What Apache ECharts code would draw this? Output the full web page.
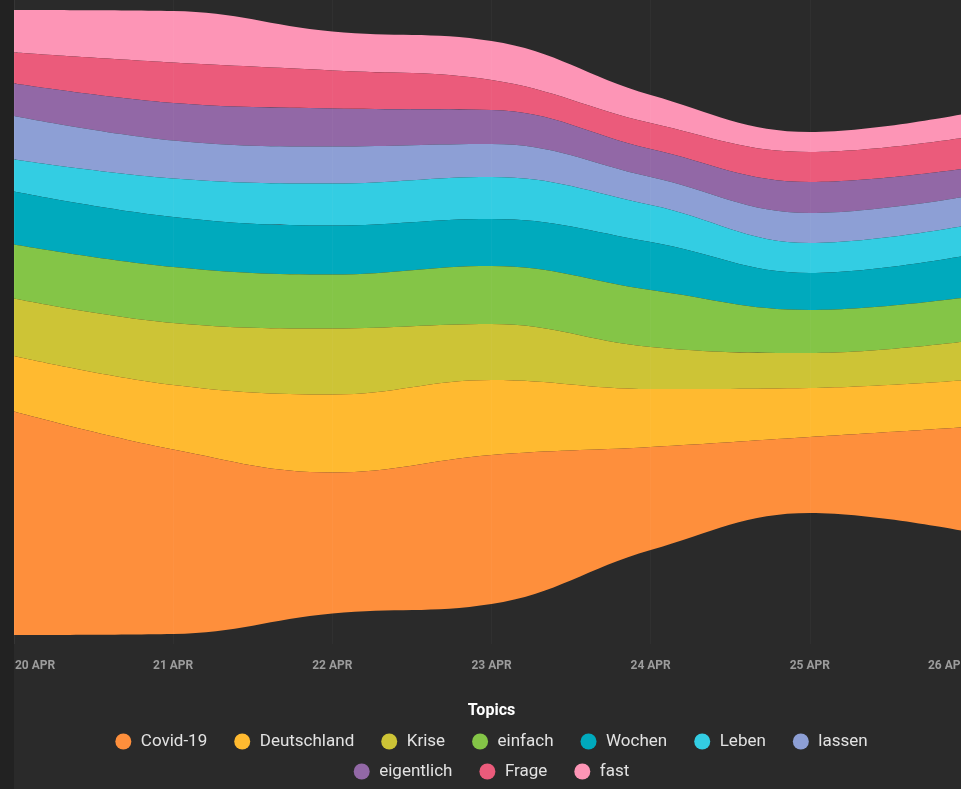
<!DOCTYPE html>
<html>
<head>
<meta charset="utf-8">
<script src="https://cdn.jsdelivr.net/npm/echarts@6/dist/echarts.min.js"></script>
<style>
  html, body { margin: 0; padding: 0; width: 961px; height: 789px; overflow: hidden; background: #2a2a2a; }
  #rail { position: absolute; left: 0; top: 0; width: 14px; height: 789px; background: #222222; }
  #chart { position: absolute; left: 14px; top: 0; width: 955px; height: 789px; }
</style>
</head>
<body>
<div id="rail"></div>
<div id="chart"></div>
<script>
// Daily topic weights, 20-26 April
const days = ['2020/04/20', '2020/04/21', '2020/04/22', '2020/04/23', '2020/04/24', '2020/04/25', '2020/04/26'];

// Legend order (bottom layer of the river first)
const topics = ['Covid-19', 'Deutschland', 'Krise', 'einfach', 'Wochen', 'Leben', 'lassen', 'eigentlich', 'Frage', 'fast'];
const topicColors = ['#fe8f3c', '#ffba30', '#cdc436', '#84c547', '#00aabd', '#33cde3', '#8d9fd5', '#9268a6', '#eb5b7b', '#fd95b6'];

const covid19     = [223.5, 184.5, 141, 149, 103, 76, 105];
const deutschland = [55.5, 64.5, 78, 75, 58, 49, 47];
const krise       = [57.5, 62, 66, 56, 42, 35, 39];
const einfach     = [54, 56, 54, 58, 57, 43, 44];
const wochen      = [53, 50, 49, 47, 48, 37, 42];
const leben       = [32, 38.5, 42, 42, 37, 30, 30];
const lassen      = [43.5, 38, 37, 33, 28, 30, 29];
const eigentlich  = [32.5, 37.5, 38, 34, 28, 31, 28];
const frage       = [31, 40.5, 38, 30, 26, 30, 31];
const fast        = [42.5, 51.5, 39, 39, 28, 20, 24];

const MONTHS = ['JAN', 'FEB', 'MAR', 'APR', 'MAY', 'JUN', 'JUL', 'AUG', 'SEP', 'OCT', 'NOV', 'DEC'];

const seriesByTopic = {
  'Covid-19': covid19, 'Deutschland': deutschland, 'Krise': krise, 'einfach': einfach,
  'Wochen': wochen, 'Leben': leben, 'lassen': lassen, 'eigentlich': eigentlich,
  'Frage': frage, 'fast': fast
};

// themeRiver stacks its first layer at the top, so feed the layers top-down
const layerOrder = topics.slice().reverse();
const riverData = [];
layerOrder.forEach(function (name) {
  days.forEach(function (d, i) { riverData.push([d, seriesByTopic[name][i], name]); });
});
const palette = layerOrder.map(function (name) { return topicColors[topics.indexOf(name)]; });

const firstDay = new Date(days[0]).getTime();
const lastDay = new Date(days[days.length - 1]).getTime();

const legendBase = {
  left: 'center',
  icon: 'circle',
  itemWidth: 25,
  itemHeight: 16,
  itemGap: 27,
  selectedMode: false,
  textStyle: { color: '#e2e2e2', fontSize: 17, fontFamily: 'Roboto, sans-serif' }
};

const labelStyle = { color: '#9c9c9c', fontSize: 12, fontWeight: 'bold', fontFamily: 'Roboto, sans-serif' };

const chart = echarts.init(document.getElementById('chart'), null, { renderer: 'canvas' });
chart.setOption({
  backgroundColor: 'transparent',
  color: palette,
  textStyle: { fontFamily: 'Roboto, sans-serif' },
  title: {
    text: 'Topics',
    left: 'center',
    top: 703,
    padding: 0,
    textStyle: { color: '#ffffff', fontSize: 16, fontWeight: 'bold', fontFamily: 'Roboto, sans-serif' }
  },
  legend: [
    Object.assign({}, legendBase, { data: topics.slice(0, 7), top: 728 }),
    Object.assign({}, legendBase, { data: topics.slice(7), top: 758 })
  ],
  singleAxis: {
    type: 'time',
    left: 0,
    right: 0,
    top: 0,
    height: 644,
    min: days[0],
    max: days[days.length - 1],
    minInterval: 86400000,
    maxInterval: 86400000,
    zlevel: 1,
    z: 10,
    axisLine: { show: false },
    axisTick: { show: false },
    splitLine: { show: true, lineStyle: { color: 'rgba(255,255,255,0.16)', width: 1, type: 'solid' } },
    axisLabel: Object.assign({}, labelStyle, {
      margin: 16,
      showMinLabel: true,
      showMaxLabel: true,
      hideOverlap: false,
      formatter: function (v) {
        const d = new Date(v);
        const text = d.getDate() + ' ' + MONTHS[d.getMonth()];
        // the end dates sit on the chart edges, so keep their text inside
        if (v <= firstDay) return '{first|' + text + '}';
        if (v >= lastDay) return '{last|' + text + '}';
        return text;
      },
      rich: {
        first: Object.assign({}, labelStyle, { padding: [0, 0, 0, 42] }),
        last: Object.assign({}, labelStyle, { padding: [0, 42, 0, 0] })
      }
    })
  },
  series: [{
    type: 'themeRiver',
    singleAxisIndex: 0,
    z: 2,
    boundaryGap: [10, 9],
    label: { show: false },
    emphasis: { disabled: true },
    data: riverData
  }]
});
</script>
</body>
</html>
